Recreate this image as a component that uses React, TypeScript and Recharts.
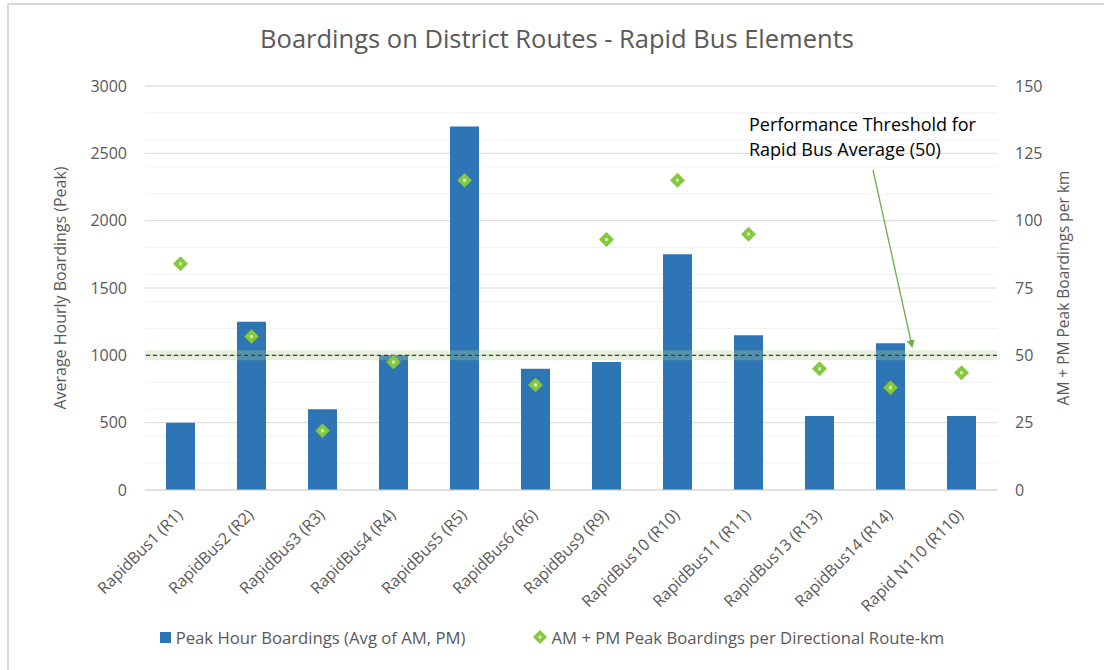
import React from 'react';
import {
  ComposedChart,
  Bar,
  Scatter,
  XAxis,
  YAxis,
  CartesianGrid,
  ReferenceLine,
  Legend,
} from 'recharts';

// Route categories along the x axis
const routes = [
  'RapidBus1 (R1)',
  'RapidBus2 (R2)',
  'RapidBus3 (R3)',
  'RapidBus4 (R4)',
  'RapidBus5 (R5)',
  'RapidBus6 (R6)',
  'RapidBus9 (R9)',
  'RapidBus10 (R10)',
  'RapidBus11 (R11)',
  'RapidBus13 (R13)',
  'RapidBus14 (R14)',
  'Rapid N110 (R110)',
];

// Peak hour boardings (avg of AM, PM) - left axis
const peakHourBoardings = [500, 1250, 600, 1000, 2700, 900, 950, 1750, 1150, 550, 1090, 550];

// AM + PM peak boardings per directional route-km - right axis
const boardingsPerKm = [84, 57, 22, 47.5, 115, 39, 93, 115, 95, 45, 38, 43.5];

const leftTicks = [0, 500, 1000, 1500, 2000, 2500, 3000];
const rightTicks = [0, 25, 50, 75, 100, 125, 150];
const minorLeft = Array.from({ length: 31 }, (_, i) => i * 100);

const threshold = 50; // right axis units (same level as 1000 on left)

const FONT = '"Open Sans", sans-serif';
const GREY = '#595959';
const BLUE = '#2E75B6';
const GREEN = '#86C941';

const data = routes.map((name, i) => ({
  name,
  peak: peakHourBoardings[i],
  perKm: boardingsPerKm[i],
}));

const Diamond = (props: any) => {
  const { cx, cy } = props;
  if (cx == null || cy == null) return null;
  const r = 7;
  return (
    <g>
      <polygon
        points={`${cx},${cy - r} ${cx + r},${cy} ${cx},${cy + r} ${cx - r},${cy}`}
        fill={GREEN}
        stroke="#7BBE3A"
        strokeWidth={0.8}
      />
      <rect x={cx - 1.5} y={cy - 1.5} width={3} height={3} fill="#D4F0A8" />
    </g>
  );
};

const XTick = (props: any) => {
  const { x, y, payload } = props;
  return (
    <g transform={`translate(${x - 1},${y + 14})`}>
      <text
        transform="rotate(-45)"
        textAnchor="end"
        dy="0.35em"
        fontFamily={FONT}
        fontSize={16}
        fill={GREY}
      >
        {payload.value}
      </text>
    </g>
  );
};

const LegendContent = () => (
  <div
    style={{
      display: 'flex',
      justifyContent: 'center',
      alignItems: 'center',
      gap: 68,
      height: 26,
      fontFamily: FONT,
      fontSize: 16.7,
      color: GREY,
    }}
  >
    <div style={{ display: 'flex', alignItems: 'center' }}>
      <span style={{ width: 11, height: 11, background: BLUE, marginRight: 5, display: 'inline-block' }} />
      <span>Peak Hour Boardings (Avg of AM, PM)</span>
    </div>
    <div style={{ display: 'flex', alignItems: 'center' }}>
      <svg width={14} height={14} style={{ marginRight: 4 }}>
        <polygon points="7,0 14,7 7,14 0,7" fill={GREEN} />
        <rect x={5.5} y={5.5} width={3} height={3} fill="#D4F0A8" />
      </svg>
      <span>AM + PM Peak Boardings per Directional Route-km</span>
    </div>
  </div>
);

export default function App() {
  return (
    <div style={{ position: 'absolute', left: 0, top: 0, width: 1104, height: 670, background: '#fff' }}>
      <div
        style={{
          position: 'absolute',
          left: 7,
          top: 3,
          right: 0,
          bottom: 0,
          borderTop: '2px solid #D9D9D9',
          borderLeft: '2px solid #D9D9D9',
        }}
      />
      <div
        style={{
          position: 'absolute',
          left: 0,
          top: 21,
          width: 1114,
          textAlign: 'center',
          fontFamily: FONT,
          fontSize: 25.5,
          color: GREY,
        }}
      >
        Boardings on District Routes - Rapid Bus Elements
      </div>
      <ComposedChart
        width={1104}
        height={670}
        data={data}
        margin={{ top: 86, right: 0, bottom: 20, left: 0 }}
        barCategoryGap="29%"
        style={{ position: 'absolute', left: 0, top: 0 }}
      >
        <CartesianGrid
          yAxisId="left"
          vertical={false}
          horizontalValues={minorLeft}
          stroke="#F2F2F2"
        />
        <CartesianGrid
          yAxisId="left"
          vertical={false}
          horizontalValues={leftTicks}
          stroke="#D9D9D9"
        />
        <XAxis
          dataKey="name"
          interval={0}
          height={134}
          axisLine={{ stroke: '#D9D9D9' }}
          tickLine={false}
          tick={<XTick />}
        />
        <YAxis
          yAxisId="left"
          orientation="left"
          width={145}
          domain={[0, 3000]}
          ticks={leftTicks}
          axisLine={false}
          tickLine={false}
          tickSize={0}
          tickMargin={18}
          tick={{ fill: GREY, fontSize: 16, fontFamily: FONT }}
          label={{
            value: 'Average Hourly Boardings (Peak)',
            angle: -90,
            position: 'insideLeft',
            offset: 60,
            style: { textAnchor: 'middle', fill: GREY, fontSize: 16, fontFamily: FONT },
          }}
        />
        <YAxis
          yAxisId="right"
          orientation="right"
          width={107}
          domain={[0, 150]}
          ticks={rightTicks}
          axisLine={false}
          tickLine={false}
          tickSize={0}
          tickMargin={18}
          tick={{ fill: GREY, fontSize: 16, fontFamily: FONT }}
          label={{
            value: 'AM + PM Peak Boardings per km',
            angle: -90,
            position: 'insideRight',
            offset: 41,
            style: { textAnchor: 'middle', fill: GREY, fontSize: 15.5, fontFamily: FONT },
          }}
        />
        <Bar yAxisId="left" dataKey="peak" fill={BLUE} barSize={29} isAnimationActive={false} />
        <ReferenceLine
          yAxisId="right"
          y={threshold}
          stroke="#A9D18E"
          strokeOpacity={0.3}
          strokeWidth={10}
        />
        <ReferenceLine
          yAxisId="right"
          y={threshold}
          stroke="#404040"
          strokeDasharray="4 3"
          strokeWidth={1.3}
        />
        <Scatter yAxisId="right" dataKey="perKm" shape={<Diamond />} isAnimationActive={false} />
        <Legend verticalAlign="bottom" content={<LegendContent />} />
      </ComposedChart>
      <svg
        width={1104}
        height={670}
        style={{ position: 'absolute', left: 0, top: 0, pointerEvents: 'none' }}
      >
        <defs>
          <marker id="arrowHead" markerWidth="8" markerHeight="8" refX="6" refY="4" orient="auto" markerUnits="userSpaceOnUse">
            <path d="M0,0 L8,4 L0,8 Z" fill="#70AD47" />
          </marker>
        </defs>
        <text x={749} y={131} fontFamily={FONT} fontSize={18} fill="#000">
          Performance Threshold for
        </text>
        <text x={749} y={156} fontFamily={FONT} fontSize={18} fill="#000">
          Rapid Bus Average (50)
        </text>
        <line
          x1={873}
          y1={170}
          x2={912}
          y2={346}
          stroke="#70AD47"
          strokeWidth={1.3}
          markerEnd="url(#arrowHead)"
        />
      </svg>
    </div>
  );
}
